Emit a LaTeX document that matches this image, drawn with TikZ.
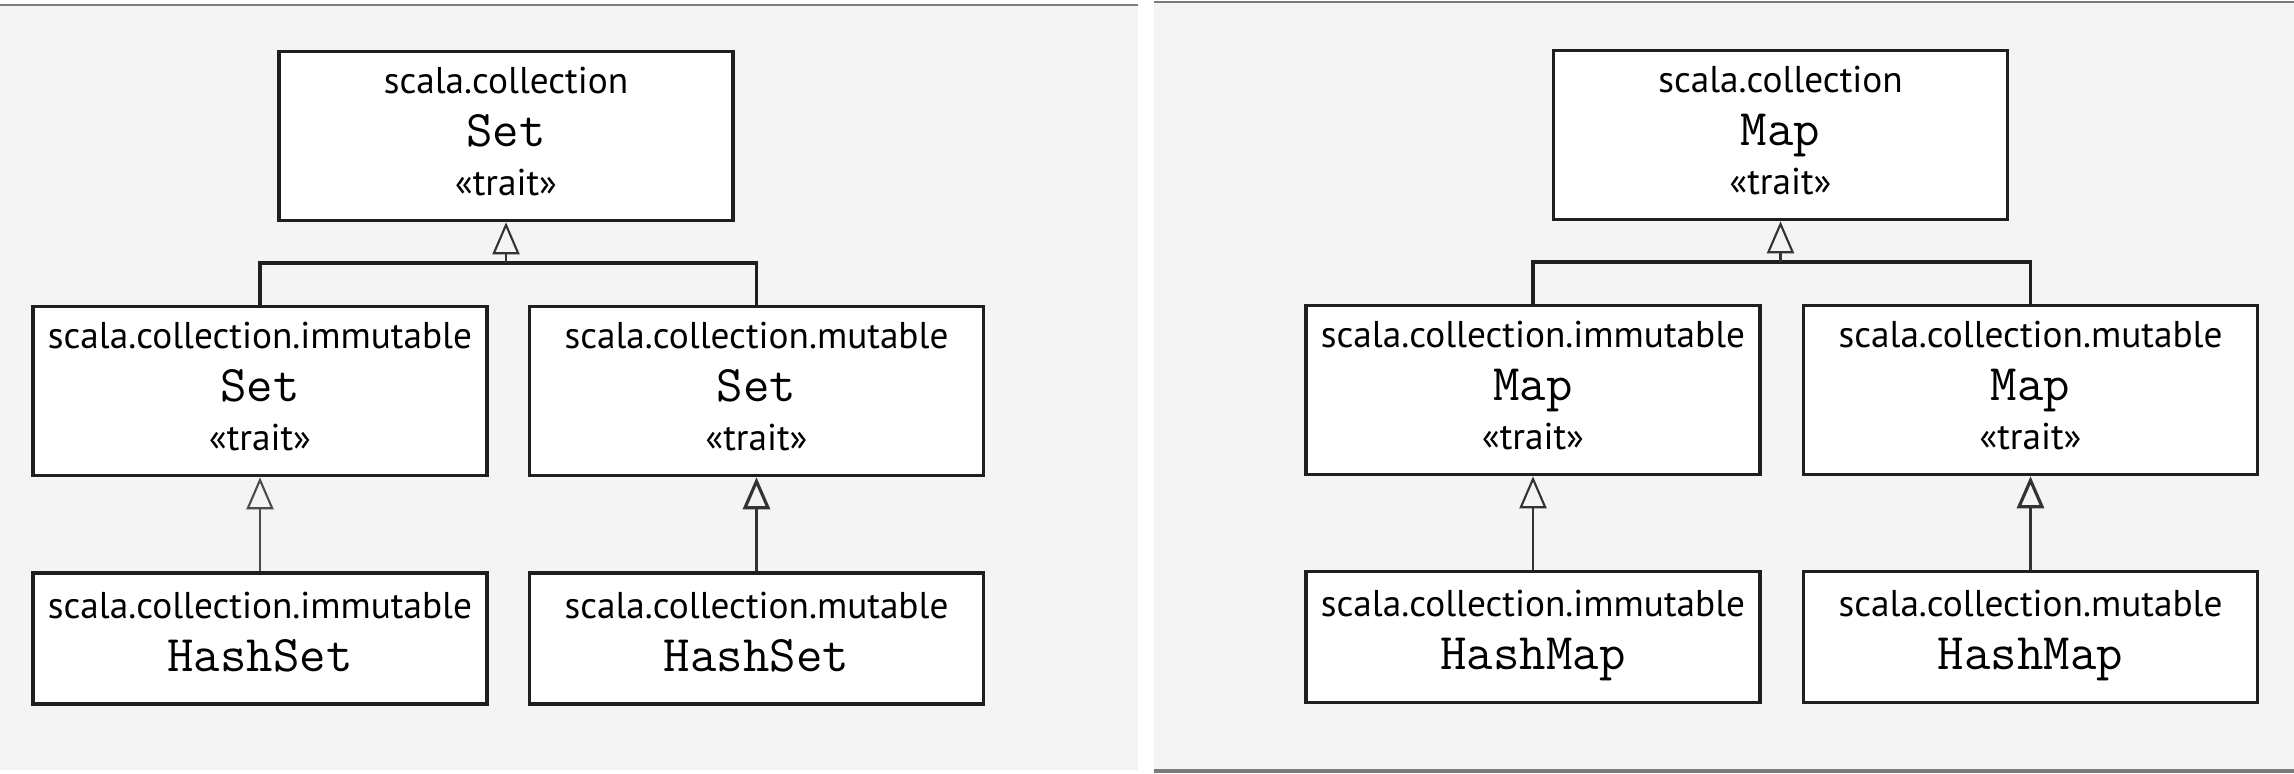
\documentclass[tikz,border=0pt]{standalone}
\usepackage{fontspec}
\setmainfont{PT Sans}
\usepackage{tikz}
\usetikzlibrary{positioning,arrows.meta}
\definecolor{panelgray}{HTML}{F4F4F4}
\definecolor{rulegray}{HTML}{7A7A7A}
\newcommand{\tname}[1]{{\ttfamily\fontsize{14.6pt}{14pt}\selectfont #1}}

\begin{document}
\begin{tikzpicture}[
    x=0.01cm, y=-0.01cm,
    font=\fontsize{10.6pt}{14pt}\selectfont,
    umlbox/.style={draw=black!88, line width=1pt, fill=white, minimum width=4.54cm, minimum height=1.69cm, align=center, inner sep=0pt, text depth=2.5pt},
    lowbox/.style={umlbox, minimum height=1.31cm, text depth=4pt},
    extends/.style={-{Triangle[open, length=3.2mm, width=2.7mm]}, line width=0.6pt, draw=black!80},
    joinbar/.style={line width=1pt, draw=black!88}
]

% page and the two panels
\useasboundingbox[fill=white] (0,0) rectangle (2294,774);
\fill[panelgray] (0,4) rectangle (1138,770);
\draw[rulegray, line width=0.7pt] (0,5) -- (1138,5);
\fill[panelgray] (1154,2) rectangle (2294,771);
\draw[rulegray, line width=0.7pt] (1154,2) -- (2294,2);
\draw[rulegray, line width=1pt] (1154,771) -- (2294,771);

% Set hierarchy
\node[umlbox] (setTop) at (506,136) {scala.collection\\[1pt]\tname{Set}\\«trait»};
\node[umlbox] (setImm) at (260,391) {scala.collection.immutable\\[1pt]\tname{Set}\\«trait»};
\node[umlbox] (setMut) at (756.5,391) {scala.collection.mutable\\[1pt]\tname{Set}\\«trait»};
\node[lowbox] (hsetImm) at (260,638.5) {scala.collection.immutable\\[1pt]\tname{HashSet}};
\node[lowbox] (hsetMut) at (756.5,638.5) {scala.collection.mutable\\[1pt]\tname{HashSet}};
\coordinate (setJoin) at (506,263);

\draw[joinbar] (setImm.north) |- (setJoin) -| (setMut.north);
\draw[extends] (setJoin) -- (setTop.south);
\draw[extends, draw=black!70] (hsetImm) -- (setImm);
\draw[extends, line width=0.9pt] (hsetMut) -- (setMut);

% Map hierarchy
\node[umlbox] (mapTop) at (1780.5,135) {scala.collection\\[1pt]\tname{Map}\\«trait»};
\node[umlbox] (mapImm) at (1533,390) {scala.collection.immutable\\[1pt]\tname{Map}\\«trait»};
\node[umlbox] (mapMut) at (2030.5,390) {scala.collection.mutable\\[1pt]\tname{Map}\\«trait»};
\node[lowbox] (hmapImm) at (1533,637) {scala.collection.immutable\\[1pt]\tname{HashMap}};
\node[lowbox] (hmapMut) at (2030.5,637) {scala.collection.mutable\\[1pt]\tname{HashMap}};
\coordinate (mapJoin) at (1780.5,262);

\draw[joinbar] (mapImm.north) |- (mapJoin) -| (mapMut.north);
\draw[extends] (mapJoin) -- (mapTop.south);
\draw[extends] (hmapImm) -- (mapImm);
\draw[extends, line width=0.9pt] (hmapMut) -- (mapMut);

\end{tikzpicture}
\end{document}
